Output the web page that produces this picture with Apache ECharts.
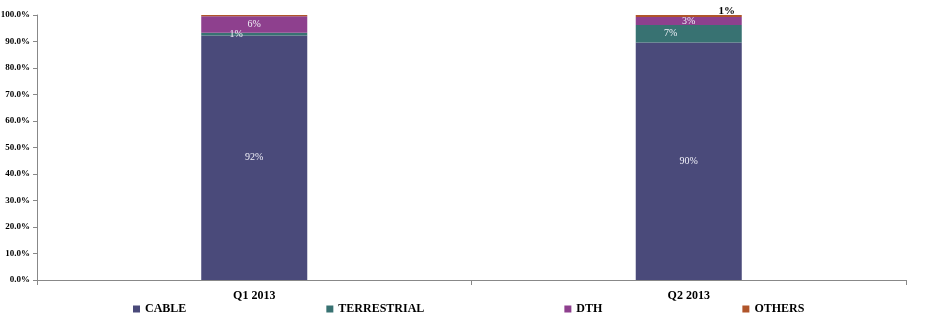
<!DOCTYPE html>
<html><head><meta charset="utf-8">
<script src="https://cdn.jsdelivr.net/npm/echarts@6/dist/echarts.min.js"></script>
<style>html,body{margin:0;padding:0;background:#fff}#c{width:933px;height:327px}</style>
</head><body><div id="c"></div>
<script>
const categories = ['Q1 2013', 'Q2 2013'];
const seriesNames = ['CABLE', 'TERRESTRIAL', 'DTH', 'OTHERS'];
const cable = [92.3, 89.6];
const terrestrial = [1.0, 6.6];
const dth = [6.2, 3.0];
const others = [0.5, 0.8];
const yTicks = [0, 10, 20, 30, 40, 50, 60, 70, 80, 90, 100];

const colors = ['#4A4A7A', '#387272', '#8E408E', '#B0552A'];
const font = 'Liberation Serif';
const fmt = p => { const r = Math.round(p.value); return r > 0 ? r + '%' : ''; };
const inLabel = (offset) => ({
  show: true, position: 'inside', formatter: fmt, color: '#f0f0f8',
  fontFamily: font, fontSize: 10, offset: offset
});
const chart = echarts.init(document.getElementById('c'));
chart.setOption({
  animation: false,
  grid: { left: 37, right: 27, top: 15, bottom: 47, containLabel: false, outerBoundsMode: 'none' },
  legend: {
    data: seriesNames, bottom: 7, left: 128, itemGap: 140, itemWidth: 7, itemHeight: 7, icon: 'rect',
    textStyle: { fontFamily: font, fontWeight: 'bold', fontSize: 12, color: '#000' }
  },
  xAxis: {
    type: 'category', data: categories,
    axisLine: { lineStyle: { color: '#888' } },
    axisTick: { show: true, length: 5, lineStyle: { color: '#888' } },
    axisLabel: { fontFamily: font, fontWeight: 'bold', fontSize: 12, color: '#000', margin: 10 }
  },
  yAxis: {
    type: 'value', min: 0, max: 100, interval: 10,
    splitLine: { show: false },
    axisLine: { show: true, lineStyle: { color: '#888' } },
    axisTick: { show: true, length: 4, lineStyle: { color: '#888' } },
    axisLabel: { formatter: v => yTicks.includes(v) ? v.toFixed(1) + '%' : '', fontFamily: font, fontWeight: 'bold', fontSize: 9, color: '#000', margin: 7 }
  },
  series: [
    { name: 'CABLE', type: 'bar', stack: 's', barWidth: '24.4%', data: cable, itemStyle: { color: colors[0] }, label: inLabel([0, 0]) },
    { name: 'TERRESTRIAL', type: 'bar', stack: 's', data: terrestrial, itemStyle: { color: colors[1] }, label: inLabel([-18, 0]) },
    { name: 'DTH', type: 'bar', stack: 's', data: dth, itemStyle: { color: colors[2] }, label: inLabel([0, 0]) },
    { name: 'OTHERS', type: 'bar', stack: 's', data: others, itemStyle: { color: colors[3] },
      label: { show: true, position: 'top', distance: 0, offset: [38, 2], formatter: p => p.dataIndex === 0 ? '' : fmt(p), color: '#000', fontFamily: font, fontWeight: 'bold', fontSize: 11 } }
  ]
});
</script></body></html>
